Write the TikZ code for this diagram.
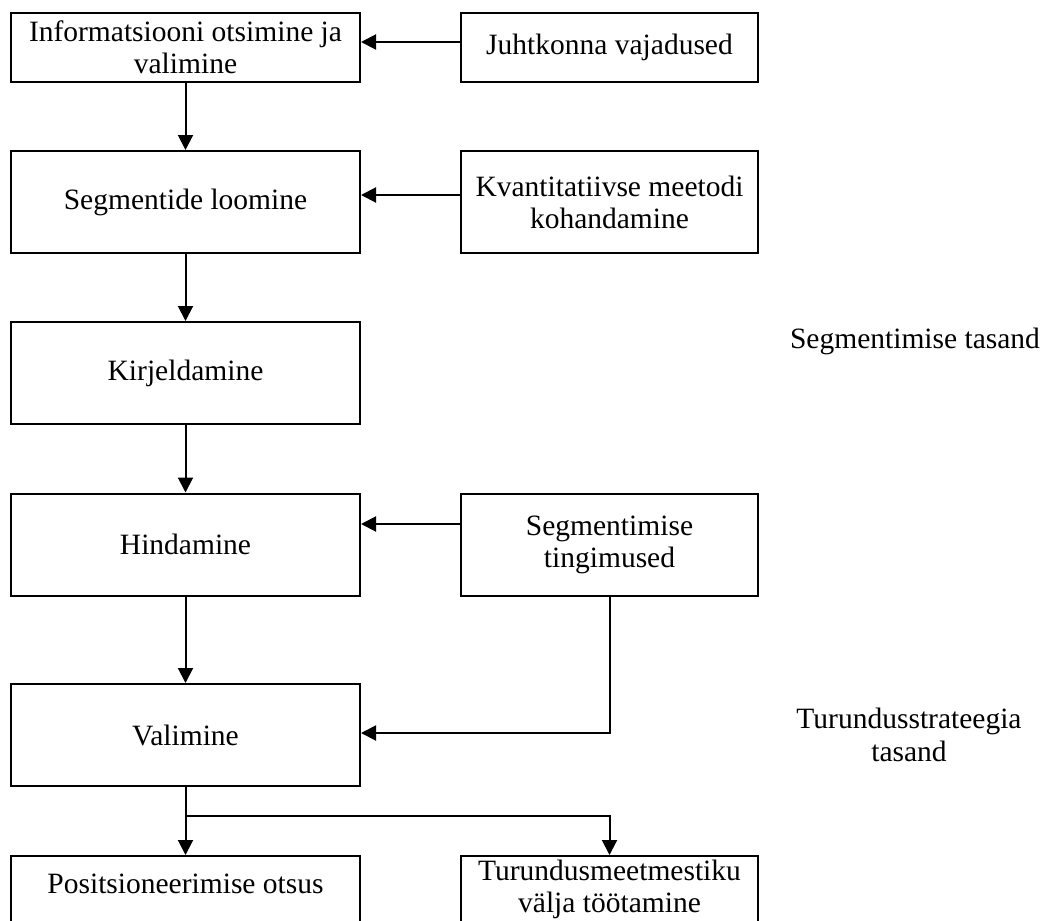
\documentclass[tikz,border=0pt]{standalone}
\usepackage{fontspec}
\setmainfont{Liberation Serif}
\usetikzlibrary{arrows.meta}
\begin{document}
\begin{tikzpicture}[x=0.5pt,y=-0.5pt,
  every node/.style={font=\fontsize{14.75pt}{16pt}\selectfont},
  boxbase/.style={draw, line width=1pt, inner sep=0pt, align=center},
  lbox/.style={boxbase, minimum width=174.5pt, minimum height=51pt},
  rbox/.style={boxbase, minimum width=148.5pt, minimum height=51pt},
  flat/.style={minimum height=34.5pt},
  arr/.style={line width=1pt, -{Triangle[length=7.5pt,width=7.5pt]}},
  plain/.style={line width=1pt},
  lbl/.style={inner sep=0pt, align=center}]
\useasboundingbox (0,0) rectangle (1043,920);
\clip (0,0) rectangle (1043,920);
% left column
\node[lbox,flat] (l1) at (185.5,47.5) {Informatsiooni otsimine ja\\valimine};
\node[lbox] (l2) at (185.5,202) {Segmentide loomine};
\node[lbox] (l3) at (185.5,373) {Kirjeldamine};
\node[lbox] (l4) at (185.5,544.5) {Hindamine};
\node[lbox] (l5) at (185.5,735) {Valimine};
\node[lbox,anchor=north] (l6) at (185.5,855) {};
\node[lbl,anchor=base] (l6t) at (185.5,893) {Positsioneerimise otsus};
% right column
\node[rbox,flat] (r1) at (609.5,47.5) {Juhtkonna vajadused};
\node[rbox] (r2) at (609.5,202) {Kvantitatiivse meetodi\\kohandamine};
\node[rbox] (r3) at (609.5,544.5) {Segmentimise\\tingimused};
\node[rbox,anchor=north] (r4) at (609.5,855) {};
\node[lbl,anchor=base] (r4a) at (609.5,880) {Turundusmeetmestiku};
\node[lbl,anchor=base] (r4b) at (609.5,912) {välja töötamine};
% side labels
\node[lbl,anchor=base] (s1) at (915,348) {Segmentimise tasand};
\node[lbl,anchor=base] (s2) at (909,728) {Turundusstrateegia};
\node[lbl,anchor=base] (s3) at (909,761) {tasand};
% vertical flow
\draw[arr] (l1.south) -- (l2.north);
\draw[arr] (l2.south) -- (l3.north);
\draw[arr] (l3.south) -- (l4.north);
\draw[arr] (l4.south) -- (l5.north);
\draw[arr] (l5.south) -- (l6.north);
% inputs from right
\draw[arr] ([yshift=2.75pt]r1.west) -- ([yshift=2.75pt]l1.east);
\draw[arr] ([yshift=3.5pt]r2.west) -- ([yshift=3.5pt]l2.east);
\draw[arr] ([yshift=10.25pt]r3.west) -- ([yshift=10.25pt]l4.east);
\draw[arr] (r3.south) |- ([yshift=1pt]l5.east);
% branch
\coordinate (br) at ([yshift=-14.5pt]l5.south);
\draw[arr] (br) -| (r4.north);
\end{tikzpicture}
\end{document}
